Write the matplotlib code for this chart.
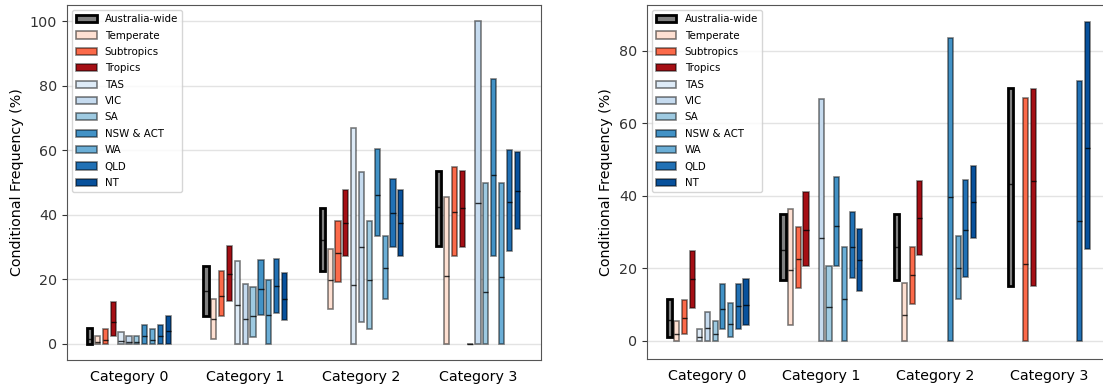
import numpy as np
import matplotlib
matplotlib.use("Agg")
from matplotlib import pyplot as plt
from matplotlib.patches import Patch

nan = np.nan

categories = ['Category 0', 'Category 1', 'Category 2', 'Category 3']
series = ['Australia-wide', 'Temperate', 'Subtropics', 'Tropics', 'TAS', 'VIC',
          'SA', 'NSW & ACT', 'WA', 'QLD', 'NT']
colors = ['#808080', '#fee0d2', '#fb6a4a', '#a50f15', '#deebf7', '#c6dbef',
          '#9ecae1', '#4292c6', '#6baed6', '#2171b5', '#08519c']

# left panel: min / median / max per series (rows) and category (columns)
left_low = [[0, 8.5, 22.6, 30.3],
            [0, 1.5, 10.7, 0],
            [0, 8.5, 19.2, 27.3],
            [2.3, 13.4, 27.2, 30.0],
            [0, 0, 0, 0],
            [0, 0, 6.7, 0],
            [0, 2.0, 4.6, 0],
            [0, 8.8, 33.4, 27.2],
            [0, 0, 14.0, 0],
            [0, 9.5, 29.9, 28.8],
            [0, 7.4, 27.2, 35.7]]
left_med = [[1.5, 16.4, 32.2, 42.4],
            [0.5, 7.6, 19.8, 21.1],
            [1.2, 14.9, 28.3, 40.9],
            [6.8, 21.6, 37.4, 42.1],
            [1.0, 11.9, 18.1, 0],
            [0.6, 7.6, 29.9, 43.6],
            [0.6, 8.7, 19.8, 16.1],
            [2.3, 17.1, 46.1, 52.3],
            [1.3, 9.1, 23.5, 20.6],
            [2.3, 18.0, 40.4, 43.9],
            [4.1, 13.8, 37.4, 47.3]]
left_high = [[5.0, 24.1, 42.0, 53.7],
             [2.3, 13.9, 29.3, 45.4],
             [4.6, 22.5, 38.1, 54.9],
             [13.1, 30.3, 47.6, 53.6],
             [3.6, 25.8, 66.8, 0],
             [2.3, 18.5, 53.3, 100],
             [2.3, 17.5, 38.1, 49.8],
             [6.0, 25.9, 60.4, 82.0],
             [4.6, 19.8, 33.3, 49.8],
             [6.0, 26.3, 51.2, 60.0],
             [8.5, 21.9, 47.6, 59.3]]

# right panel (nan = no data)
right_low = [[0.9, 16.8, 16.8, 15.1],
             [0, 4.3, 0, nan],
             [1.9, 14.6, 10.1, 0],
             [9.1, 20.5, 23.5, 15.1],
             [0, nan, nan, nan],
             [0, 0, nan, nan],
             [0, 0, nan, nan],
             [3.1, 20.5, 0, nan],
             [1.0, 0, 11.6, nan],
             [3.1, 17.2, 17.5, 0],
             [4.3, 13.6, 28.2, 25.3]]
right_med = [[5.7, 25.1, 25.8, 43.1],
             [1.9, 19.4, 7.1, nan],
             [6.1, 22.5, 18.2, 21.2],
             [16.9, 30.6, 33.7, 44.0],
             [0.9, nan, nan, nan],
             [3.4, 28.3, nan, nan],
             [1.7, 9.2, nan, nan],
             [8.8, 31.5, 39.5, nan],
             [4.6, 11.5, 19.9, nan],
             [9.4, 25.8, 30.4, 33.0],
             [9.7, 22.1, 38.2, 53.0]]
right_high = [[11.4, 34.8, 34.9, 69.6],
              [5.5, 36.2, 16.0, nan],
              [11.2, 31.2, 25.8, 66.8],
              [24.7, 41.1, 43.9, 69.4],
              [3.1, nan, nan, nan],
              [7.9, 66.7, nan, nan],
              [5.5, 20.7, nan, nan],
              [15.7, 45.2, 83.5, nan],
              [10.3, 25.8, 28.9, nan],
              [15.7, 35.5, 44.4, 71.6],
              [16.9, 30.7, 48.1, 87.8]]

step = 0.0675
bw = 0.045
fs = 10.3

fig = plt.figure(figsize=(11.03, 3.85), dpi=100)
ax1 = fig.add_axes([0.0605, 0.0649, 0.4297, 0.9221])
ax2 = fig.add_axes([0.5863, 0.0675, 0.4204, 0.9195])


def draw_panel(ax, low, med, high, ylim):
    x = np.arange(len(categories))
    for j in range(len(series)):
        lo = np.asarray(low[j], dtype=float)
        md = np.asarray(med[j], dtype=float)
        hi = np.asarray(high[j], dtype=float)
        ok = ~np.isnan(lo)
        xs = x[ok] + (j - 5) * step
        if j == 0:
            ec, lw = 'black', 2.0
        else:
            ec, lw = (0, 0, 0, 0.5), 1.2
        ax.bar(xs, hi[ok] - lo[ok], bw, bottom=lo[ok], color=colors[j],
               edgecolor=ec, linewidth=lw, zorder=3)
        ax.hlines(md[ok], xs - bw / 2, xs + bw / 2, color='black',
                  linewidth=1.0, alpha=0.8, zorder=4)
    ax.set_xticks(x)
    ax.set_xticklabels(categories, fontsize=fs)
    ax.tick_params(axis='x', length=0, pad=7)
    ax.tick_params(axis='y', labelsize=fs, colors='#333333')
    ax.set_xlim(-0.535, 3.54)
    ax.set_ylim(*ylim)
    ax.grid(axis='y', color='#e3e3e3', linewidth=1.0, zorder=0)
    ax.set_axisbelow(True)
    for s in ax.spines.values():
        s.set_color('#555555')
    ax.set_ylabel('Conditional Frequency (%)', fontsize=fs)
    handles = []
    for j in range(len(series)):
        if j == 0:
            handles.append(Patch(facecolor=colors[j], edgecolor='black', linewidth=2.0, label=series[j]))
        else:
            handles.append(Patch(facecolor=colors[j], edgecolor=(0, 0, 0, 0.5), linewidth=1.2, label=series[j]))
    ax.legend(handles=handles, loc='upper left', fontsize=7.4, labelspacing=0.62)


draw_panel(ax1, left_low, left_med, left_high, (-5, 105))
draw_panel(ax2, right_low, right_med, right_high, (-5.1, 92.6))

plt.savefig('out.png', dpi=100)
